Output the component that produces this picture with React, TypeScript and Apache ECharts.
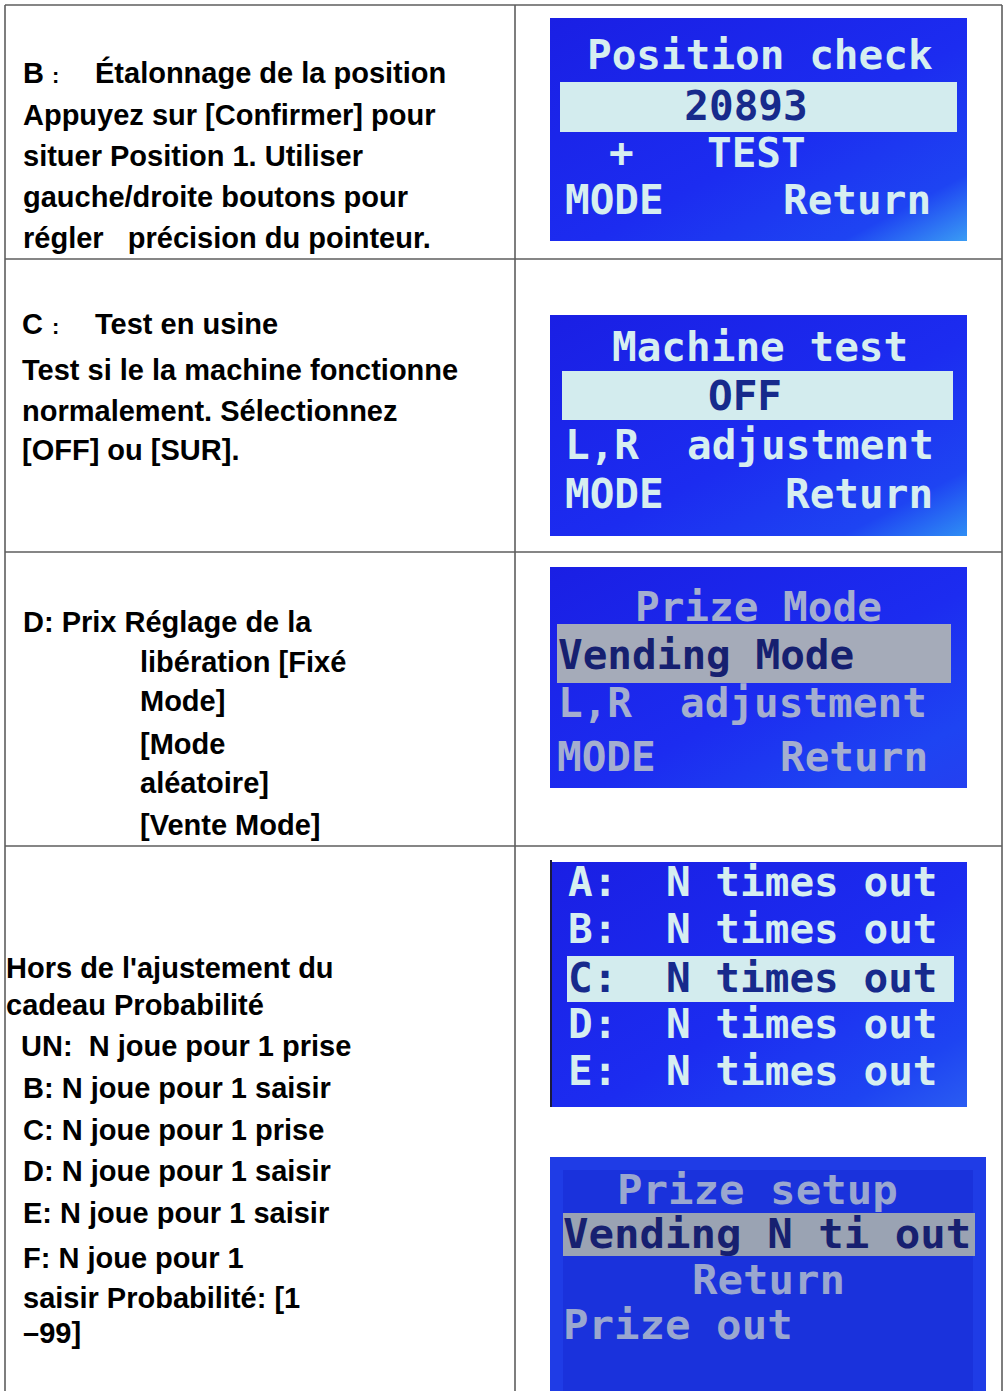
import React, { useEffect, useRef } from "react";
import * as echarts from "echarts";

// ---- text content ----
const rowBHead = ["B", ":", "Étalonnage de la position"];
const rowBLines = [
  "Appuyez sur [Confirmer] pour",
  "situer Position 1. Utiliser",
  "gauche/droite boutons pour",
  "régler   précision du pointeur.",
];
const rowCHead = ["C", ":", "Test en usine"];
const rowCLines = [
  "Test si le la machine fonctionne",
  "normalement. Sélectionnez",
  "[OFF] ou [SUR].",
];
const rowDHead = "D: Prix Réglage de la";
const rowDLines = ["libération [Fixé", "Mode]", "[Mode", "aléatoire]", "[Vente Mode]"];
const rowEHead = ["Hors de l'ajustement du", "cadeau Probabilité"];
const rowELines = [
  "UN:  N joue pour 1 prise",
  "B: N joue pour 1 saisir",
  "C: N joue pour 1 prise",
  "D: N joue pour 1 saisir",
  "E: N joue pour 1 saisir",
  "F: N joue pour 1",
  "saisir Probabilité: [1",
  "–99]",
];

const lcd1 = ["Position check", "20893", "+", "TEST", "MODE", "Return"];
const lcd2 = ["Machine test", "OFF", "L,R", "adjustment", "MODE", "Return"];
const lcd3 = ["Prize Mode", "Vending Mode", "L,R", "adjustment", "MODE", "Return"];
const lcd4Labels = ["A:", "B:", "C:", "D:", "E:"];
const lcd4Text = "N times out";
const lcd5 = ["Prize setup", "Vending N ti out", "Return", "Prize out"];

const SANS = '"Liberation Sans", Arial, Helvetica, sans-serif';
const MONO = '"DejaVu Sans Mono", "Liberation Mono", monospace';

export default function App() {
  const ref = useRef<HTMLDivElement>(null);

  useEffect(() => {
    if (!ref.current) return;
    const chart = echarts.init(ref.current, null, { renderer: "svg" });

    const els: any[] = [];
    const line = (x1: number, y1: number, x2: number, y2: number) =>
      els.push({
        type: "line",
        shape: { x1, y1, x2, y2 },
        style: { stroke: "#5e5e5e", lineWidth: 1.6 },
        z: 10,
      });
    const txt = (text: string, x: number, y: number, size = 29) =>
      els.push({
        type: "text",
        x,
        y,
        style: {
          text,
          fill: "#000",
          fontSize: size,
          fontWeight: "bold",
          fontFamily: SANS,
          align: "left",
          verticalAlign: "middle",
        },
      });
    const rect = (x: number, y: number, w: number, h: number, fill: any, z = 1) =>
      els.push({ type: "rect", shape: { x, y, width: w, height: h }, style: { fill }, z });
    const lcdTxt = (
      text: string,
      x: number,
      y: number,
      fill: string,
      size = 41,
      align = "left",
      scaleX = 1
    ) =>
      els.push({
        type: "text",
        x,
        y,
        scaleX,
        z: 5,
        style: {
          text,
          fill,
          fontSize: size,
          fontWeight: "bold",
          fontFamily: MONO,
          align,
          verticalAlign: "middle",
        },
      });
    const blueGrad = (light: string) =>
      new echarts.graphic.LinearGradient(0, 0, 1, 1, [
        { offset: 0, color: "#1a1fe4" },
        { offset: 0.55, color: "#1c2cf0" },
        { offset: 0.85, color: "#1e44f2" },
        { offset: 1, color: light },
      ]);

    // ---- table grid ----
    const rows = [5, 259, 552, 846];
    rows.forEach((y) => line(5, y, 1002, y));
    [5, 515, 1002].forEach((x) => line(x, 5, x, 1391));

    // ---- left column text ----
    txt(rowBHead[0], 23, 73);
    txt(rowBHead[1], 52, 75, 22);
    txt(rowBHead[2], 95, 73);
    rowBLines.forEach((t, i) => txt(t, 23, [115, 156, 197, 238][i]));

    txt(rowCHead[0], 22, 324);
    txt(rowCHead[1], 52, 326, 22);
    txt(rowCHead[2], 95, 324);
    rowCLines.forEach((t, i) => txt(t, 22, [370, 411, 450][i]));

    txt(rowDHead, 23, 622);
    rowDLines.forEach((t, i) => txt(t, 140, [662, 701, 744, 783, 825][i]));

    rowEHead.forEach((t, i) => txt(t, 6, [968, 1005][i]));
    rowELines.forEach((t, i) =>
      txt(t, i === 0 ? 21 : 23, [1046, 1088, 1130, 1171, 1213, 1258, 1298, 1333][i])
    );

    // ---- LCD 1 ----
    const bright = "#d6eef0";
    const navy = "#172a8c";
    rect(550, 18, 417, 223, blueGrad("#3a9cf4"));
    rect(560, 82, 397, 50, "#d3ecee", 2);
    lcdTxt(lcd1[0], 587, 55, bright);
    lcdTxt(lcd1[1], 746, 106, navy, 41, "center");
    lcdTxt(lcd1[2], 609, 153, bright);
    lcdTxt(lcd1[3], 707, 153, bright);
    lcdTxt(lcd1[4], 565, 200, bright);
    lcdTxt(lcd1[5], 783, 200, bright);

    // ---- LCD 2 ----
    rect(550, 315, 417, 221, blueGrad("#2f8ef4"));
    rect(562, 371, 391, 49, "#d3ecee", 2);
    lcdTxt(lcd2[0], 612, 347, bright);
    lcdTxt(lcd2[1], 745, 396, navy, 41, "center");
    lcdTxt(lcd2[2], 565, 445, bright);
    lcdTxt(lcd2[3], 687, 445, bright);
    lcdTxt(lcd2[4], 565, 494, bright);
    lcdTxt(lcd2[5], 785, 494, bright);

    // ---- LCD 3 (dim) ----
    const dim = "#a4aecf";
    rect(550, 567, 417, 221, blueGrad("#2440f0"));
    rect(557, 624, 394, 59, "#a5abb9", 2);
    lcdTxt(lcd3[0], 635, 607, dim);
    lcdTxt(lcd3[1], 558, 655, "#162070");
    lcdTxt(lcd3[2], 558, 703, dim);
    lcdTxt(lcd3[3], 680, 703, dim);
    lcdTxt(lcd3[4], 557, 757, dim);
    lcdTxt(lcd3[5], 780, 757, dim);

    // ---- LCD 4 ----
    rect(550, 862, 417, 245, blueGrad("#2a5cf2"));
    rect(550, 860, 2, 247, "#1a1a40", 3);
    rect(567, 956, 387, 46, "#d3ecee", 2);
    const ys4 = [882, 929, 978, 1024, 1071];
    lcd4Labels.forEach((l, i) => {
      const c = i === 2 ? navy : bright;
      lcdTxt(l, 568, ys4[i], c);
      lcdTxt(lcd4Text, 666, ys4[i], c);
    });

    // ---- LCD 5 (dim) ----
    const dim5 = "#9aa7cf";
    rect(550, 1157, 436, 234, "#1f3ce6");
    rect(563, 1170, 410, 221, "#1a32dc", 1);
    rect(563, 1213, 412, 43, "#9aa3b3", 2);
    lcdTxt(lcd5[0], 617, 1190, dim5, 40, "left", 1.06);
    lcdTxt(lcd5[1], 563, 1234, "#172070", 40, "left", 1.06);
    lcdTxt(lcd5[2], 692, 1280, dim5, 40, "left", 1.06);
    lcdTxt(lcd5[3], 563, 1325, dim5, 40, "left", 1.06);

    chart.setOption({
      animation: false,
      backgroundColor: "#ffffff",
      graphic: { elements: els },
    });

    return () => chart.dispose();
  }, []);

  return (
    <div
      ref={ref}
      style={{ position: "absolute", left: 0, top: 0, width: 1006, height: 1391 }}
    />
  );
}
